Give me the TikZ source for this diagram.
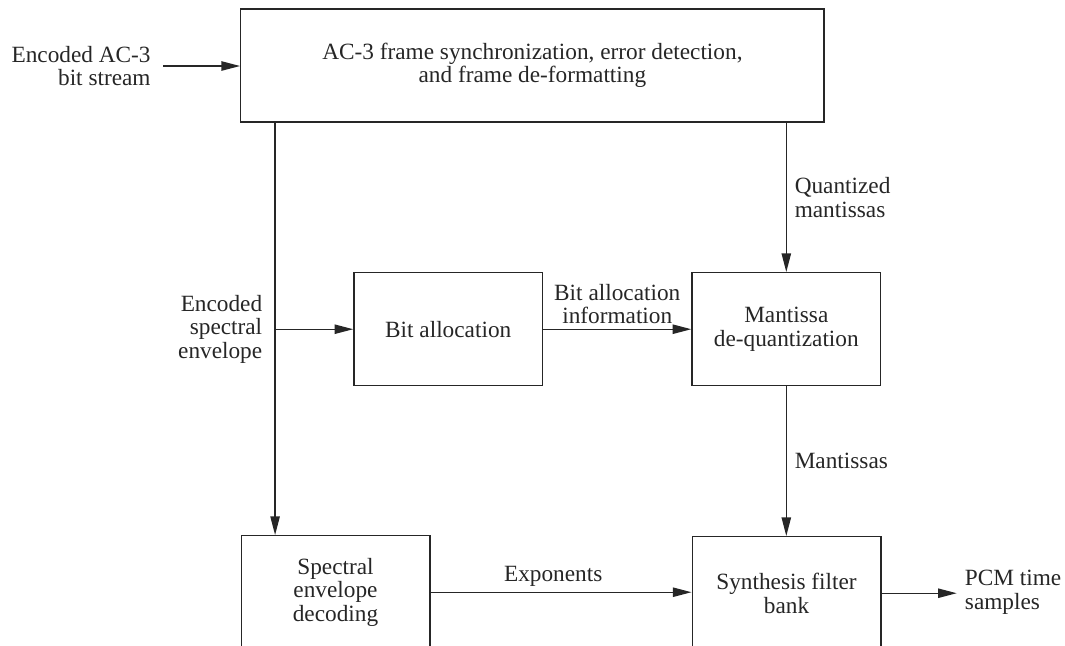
\documentclass[tikz,border=0pt]{standalone}
\usepackage{fontspec}
\setmainfont{Liberation Serif}
\usetikzlibrary{positioning,calc,arrows.meta}

\begin{document}
\begin{tikzpicture}[x=0.4295pt,y=-0.4295pt,every node/.style={font=\fontsize{10}{10.1}\selectfont,text=black!85,align=center},]

\tikzstyle{block}=[draw=black!85,line width=0.6pt,inner sep=0pt,minimum width=81pt,minimum height=48.5pt]
\tikzstyle{arr}=[draw=black!85,line width=0.6pt,-{Triangle[length=8pt,width=4pt]}]

\useasboundingbox (0,0) rectangle (1065,645);

% blocks
\node (frame) [block,minimum width=250.5pt] at (532.4,65.5) {AC-3 frame synchronization, error detection,\\and frame de-formatting};
\node (bitalloc) [block] at (448.2,329.2) {Bit allocation};
\node (dequant) [block] at (786.3,329.2) {Mantissa\\de-quantization};
\node (specdec) [block] at (335.5,592.2) {Spectral\\envelope\\decoding};
\node (synth) [block] at (786.5,593.2) {Synthesis filter\\bank};

\coordinate (bitin) at (163,66);
\coordinate (tap) at ($(frame.south west)+(35,0)$);
\coordinate (branch) at (tap |- bitalloc.west);
\coordinate (pcmout) at (956.7,592);

% input
\draw [arr] (bitin) -- (bitin -| frame.west);
\node (inlbl) [left=1.8pt of bitin,align=right] {Encoded AC-3\\bit stream};

% spectral envelope path
\draw [arr] (tap) -- (tap |- specdec.north);
\draw [arr] (branch) -- (bitalloc.west);
\node (envlbl) [left=2pt of branch,align=right] {Encoded\\spectral\\envelope};

% mantissa path
\draw [arr] (dequant.north |- frame.south) -- (dequant.north) node (qlbl) [midway,right,align=left] {Quantized\\mantissas};
\draw [arr] (bitalloc.east) -- (dequant.west) node (infolbl) [midway,above,inner sep=2pt] {Bit allocation\\information};
\draw [arr] (dequant.south) -- (dequant.south |- synth.north) node (mantlbl) [midway,right] {Mantissas};
\draw [arr] (specdec.east) -- (specdec.east -| synth.west) node (explbl) [pos=0.47,above,inner sep=2pt] {Exponents};

% output
\draw [arr] (synth.east) -- (synth.east -| pcmout);
\node (pcmlbl) [right=0pt of pcmout,align=left] {PCM time\\samples};

\end{tikzpicture}
\end{document}
